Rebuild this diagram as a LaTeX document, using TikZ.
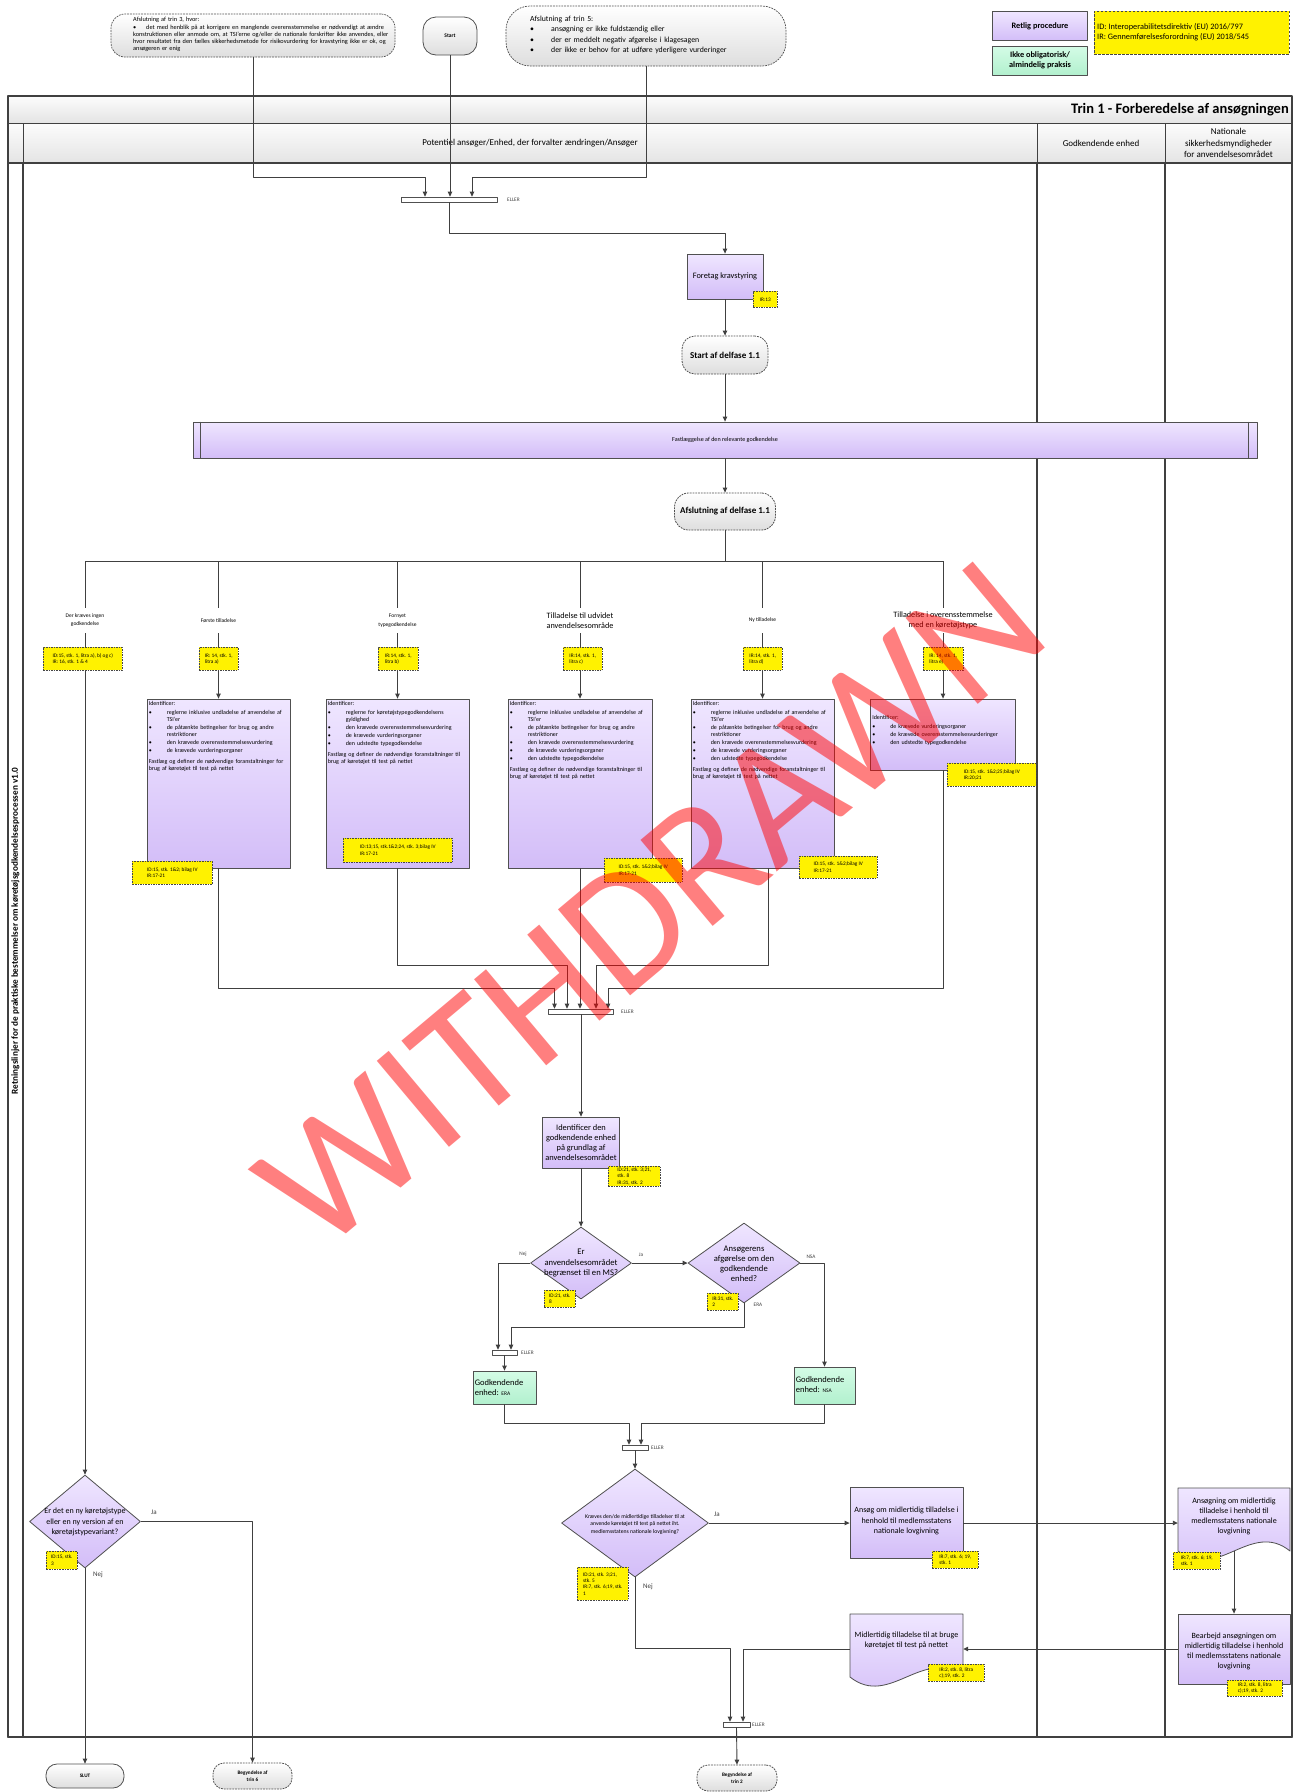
\documentclass[tikz,border=0pt]{standalone}
\usepackage{fontspec}
\setmainfont{Carlito}
\usetikzlibrary{arrows.meta,shapes.geometric,calc}
\definecolor{lineC}{RGB}{64,64,64}
\definecolor{boxC}{RGB}{80,80,80}
\definecolor{pTop}{RGB}{239,230,255}
\definecolor{pBot}{RGB}{211,189,248}
\definecolor{gTop}{RGB}{212,252,230}
\definecolor{gBot}{RGB}{178,240,206}
\definecolor{nBot}{RGB}{222,222,222}
\definecolor{hTop}{RGB}{252,252,252}
\definecolor{hBot}{RGB}{228,228,228}
\definecolor{tagC}{RGB}{70,70,70}
\hyphenpenalty=10000
\exhyphenpenalty=10000
\newcommand\fsz[2]{\fontsize{#1pt}{#2pt}\selectfont}
\newcommand\bitem[2][12pt]{\par\vspace{1pt}\noindent\hangindent=#1\hangafter=1\makebox[#1][l]{\textbullet}#2}
\tikzset{
 conn/.style={draw=lineC, line width=0.9pt},
 arr/.style={conn, -{Triangle[length=5pt,width=4.5pt]}},
 pbox/.style={draw=boxC, line width=0.8pt, top color=pTop, bottom color=pBot, inner sep=1pt},
 gbox/.style={draw=boxC, line width=0.8pt, top color=gTop, bottom color=gBot, inner sep=1pt},
 tagbox/.style={draw=tagC, line width=0.6pt, dash pattern=on 1.6pt off 1pt, fill=yellow, inner sep=1.2pt, align=left, anchor=north west, font=\fsz{5.3}{6.3}},
 term/.style={draw=boxC, line width=0.8pt, rounded corners=11pt, top color=white, bottom color=nBot, inner sep=1pt, align=center},
 dterm/.style={term, dash pattern=on 1.8pt off 1pt},
 note/.style={draw=boxC, line width=0.7pt, dash pattern=on 1.8pt off 1pt, top color=white, bottom color=nBot, inner sep=0pt},
 barbox/.style={draw=boxC, line width=0.7pt, fill=white, inner sep=0pt, minimum height=5pt},
 dia/.style={diamond, draw=boxC, line width=0.8pt, top color=pTop, bottom color=pBot, inner sep=0pt},
 blbl/.style={inner sep=0pt, minimum height=25pt, align=center},
 boxtxt/.style={inner sep=0pt, align=left, anchor=north west, font=\fsz{6}{7.1}},
 yn/.style={inner sep=0pt, text=lineC, font=\fsz{5.3}{6}},
 ynb/.style={inner sep=0pt, text=lineC, font=\fsz{7}{8}},
 elr/.style={inner sep=0pt, anchor=west, text=lineC, font=\fsz{5.3}{6}},
 hdr/.style={draw=lineC, line width=1pt, top color=hTop, bottom color=hBot},
 lane/.style={draw=lineC, line width=1.1pt},
}
\begin{document}
\begin{tikzpicture}[x=1pt,y=-1pt,line join=round]
\useasboundingbox (0,0) rectangle (1295,1792);
\fill[white] (0,0) rectangle (1295,1792);

% ---------- pool ----------
\path[hdr] (8,96) rectangle (1292,123);
\path[hdr] (8,123) rectangle (23,163);
\path[hdr] (23,123) rectangle (1037,163);
\path[hdr] (1037,123) rectangle (1165,163);
\path[hdr] (1165,123) rectangle (1292,163);
\draw[lane] (8,163) rectangle (23,1737);
\draw[lane] (23,163) rectangle (1037,1737);
\draw[lane] (1037,163) rectangle (1165,1737);
\draw[lane] (1165,163) rectangle (1292,1737);
\draw[draw=lineC, line width=1.5pt] (8,96) rectangle (1292,1737);
\node[anchor=east, inner sep=0pt, font=\bfseries\fsz{14.5}{16}] (title) at (1289,110) {Trin 1 - Forberedelse af ansøgningen};
\node[font=\fsz{9}{11}] (h1) at (530,143) {Potentiel ansøger/Enhed, der forvalter ændringen/Ansøger};
\node[font=\fsz{9}{11}] (h2) at (1101,143) {Godkendende enhed};
\node[font=\fsz{9}{11.8}, align=center, inner sep=0pt] (h3) at (1228.5,143) {Nationale\\sikkerhedsmyndigheder\\for anvendelsesområdet};
\node[rotate=90, inner sep=0pt, font=\bfseries\fsz{9.2}{10}] (vt) at (15.5,931) {Retningslinjer for de praktiske bestemmelser om køretøjsgodkendelsesprocessen v1.0};

% ---------- top ----------
\node[note, rounded corners=14pt, minimum width=284, minimum height=43] (note1) at (253,35.5) {};
\node[anchor=north west, align=left, inner sep=0pt, font=\fsz{6.3}{7.1}, text width=258] (note1t) at (133,17) {Afslutning af trin 3, hvor:\bitem[13pt]{det med henblik på at korrigere en manglende overensstemmelse er nødvendigt at ændre\newline konstruktionen eller anmode om, at TSI'erne og/eller de nationale forskrifter ikke anvendes, eller\newline hvor resultatet fra den fælles sikkerhedsmetode for risikovurdering for kravstyring ikke er ok, og\newline ansøgeren er enig}};
\node[term, rounded corners=13pt, minimum width=54, minimum height=38, font=\bfseries\fsz{5.5}{6.5}] (start) at (450,36) {Start};
\node[note, rounded corners=24pt, minimum width=280, minimum height=60] (note2) at (646,36) {};
\node[anchor=north west, align=left, inner sep=0pt, font=\fsz{7.8}{9.3}, text width=245] (note2t) at (530,16) {Afslutning af trin 5:\bitem[21pt]{ansøgning er ikke fuldstændig eller}\bitem[21pt]{der er meddelt negativ afgørelse i klagesagen}\bitem[21pt]{der ikke er behov for at udføre yderligere vurderinger}};

\node[pbox, minimum width=95, minimum height=29, font=\bfseries\fsz{8.3}{10}] (leg1) at (1040,26) {Retlig procedure};
\node[gbox, minimum width=95, minimum height=29, align=center, font=\bfseries\fsz{8.3}{10}] (leg2) at (1040,60.5) {Ikke obligatorisk/\\almindelig praksis};
\node[tagbox, anchor=center, dash pattern=on 2.5pt off 1.5pt, minimum width=195, minimum height=43] (leg3) at (1191.5,32.5) {};
\node[inner sep=0pt, anchor=west, align=left, font=\fsz{8.3}{10}] (leg3t) at (1097,32.5) {ID: Interoperabilitetsdirektiv (EU) 2016/797\\IR: Gennemførelsesforordning (EU) 2018/545};

% ---------- main flow nodes ----------
\node[barbox, minimum width=96] (bar1) at (449,199.5) {};
\node[elr] (e1) at (507,200) {ELLER};
\node[pbox, minimum width=76, minimum height=45, font=\fsz{8.3}{10}] (foretag) at (725,276.5) {Foretag kravstyring};
\node[dterm, rounded corners=13pt, minimum width=86, minimum height=38, font=\bfseries\fsz{9}{10}] (startd) at (725,355) {Start af delfase 1.1};
\node[pbox, minimum width=1064, minimum height=36, font=\fsz{6.1}{7}] (fast) at (725,440) {Fastlæggelse af den relevante godkendelse};
\draw[boxC, line width=0.7pt] ([xshift=8pt]fast.north west) -- ([xshift=8pt]fast.south west);
\draw[boxC, line width=0.7pt] ([xshift=-9pt]fast.north east) -- ([xshift=-9pt]fast.south east);
\node[dterm, rounded corners=14pt, minimum width=101, minimum height=37, font=\bfseries\fsz{9}{10}] (afsl) at (725,511.5) {Afslutning af delfase 1.1};

% branch labels
\node[blbl, font=\fsz{5.5}{8}] (L1) at (85,620.5) {Der kræves ingen\\godkendelse};
\node[blbl, font=\fsz{5.5}{8}] (LA) at (218.5,620.5) {Første tilladelse};
\node[blbl, font=\fsz{5.5}{9.5}] (LB) at (397.5,620.5) {Fornyet\\typegodkendelse};
\node[blbl, font=\fsz{8.2}{10.5}] (LC) at (580,620.5) {Tilladelse til udvidet\\anvendelsesområde};
\node[blbl, font=\fsz{5.5}{8}] (LD) at (762.5,620.5) {Ny tilladelse};
\node[blbl, font=\fsz{8.2}{10.5}] (LE) at (943,620.5) {Tilladelse i overensstemmelse\\med en køretøjstype};

% identify boxes
\node[pbox, minimum width=143, minimum height=169] (boxA) at (218.5,783.5) {};
\node[pbox, minimum width=143, minimum height=169] (boxB) at (397.5,783.5) {};
\node[pbox, minimum width=144, minimum height=169] (boxC) at (580,783.5) {};
\node[pbox, minimum width=143, minimum height=169] (boxD) at (762.5,783.5) {};
\node[pbox, minimum width=145, minimum height=71] (boxE) at (943,734.5) {};
\node[boxtxt, text width=139] (tA) at ([xshift=2pt,yshift=-3pt]boxA.north west) {Identificer:\bitem[18pt]{reglerne inklusive undladelse af anvendelse af TSI'er}\bitem[18pt]{de påtænkte betingelser for brug og andre restriktioner}\bitem[18pt]{den krævede overensstemmelsesvurdering}\bitem[18pt]{de krævede vurderingsorganer}\par\vspace{4pt}Fastlæg og definer de nødvendige foranstaltninger for brug af køretøjet til test på nettet};
\node[boxtxt, text width=139] (tB) at ([xshift=2pt,yshift=-3pt]boxB.north west) {Identificer:\bitem[18pt]{reglerne for køretøjstypegodkendelsens gyldighed}\bitem[18pt]{den krævede overensstemmelsesvurdering}\bitem[18pt]{de krævede vurderingsorganer}\bitem[18pt]{den udstedte typegodkendelse}\par\vspace{4pt}Fastlæg og definer de nødvendige foranstaltninger til brug af køretøjet til test på nettet};
\node[boxtxt, text width=140] (tC) at ([xshift=2pt,yshift=-3pt]boxC.north west) {Identificer:\bitem[18pt]{reglerne inklusive undladelse af anvendelse af TSI'er}\bitem[18pt]{de påtænkte betingelser for brug og andre restriktioner}\bitem[18pt]{den krævede overensstemmelsesvurdering}\bitem[18pt]{de krævede vurderingsorganer}\bitem[18pt]{den udstedte typegodkendelse}\par\vspace{4pt}Fastlæg og definer de nødvendige foranstaltninger til brug af køretøjet til test på nettet};
\node[boxtxt, text width=139] (tD) at ([xshift=2pt,yshift=-3pt]boxD.north west) {Identificer:\bitem[18pt]{reglerne inklusive undladelse af anvendelse af TSI'er}\bitem[18pt]{de påtænkte betingelser for brug og andre restriktioner}\bitem[18pt]{den krævede overensstemmelsesvurdering}\bitem[18pt]{de krævede vurderingsorganer}\bitem[18pt]{den udstedte typegodkendelse}\par\vspace{4pt}Fastlæg og definer de nødvendige foranstaltninger til brug af køretøjet til test på nettet};
\node[boxtxt, text width=140] (tE) at ([xshift=2pt,yshift=-17pt]boxE.north west) {Identificer:\bitem[18pt]{de krævede vurderingsorganer}\bitem[18pt]{de krævede overensstemmelsesvurderinger}\bitem[18pt]{den udstedte typegodkendelse}};

\node[barbox, minimum width=65] (bar5) at (581,1011.5) {};
\node[elr] (e5) at (621,1012) {ELLER};
\node[pbox, minimum width=77, minimum height=51, align=center, font=\fsz{8.4}{10.2}] (idbox) at (581,1142.5) {Identificer den\\godkendende enhed\\på grundlag af\\anvendelsesområdet};

\node[dia, minimum width=101, minimum height=72] (d1) at (581,1263) {};
\node[inner sep=0pt, align=center, font=\fsz{8.6}{10.5}] (d1t) at (581,1263) {Er\\anvendelsesområdet\\begrænset til en MS?};
\node[dia, minimum width=112, minimum height=80] (d2) at (744,1263) {};
\node[inner sep=0pt, align=center, font=\fsz{8.6}{10}] (d2t) at (744,1264) {Ansøgerens\\afgørelse om den\\godkendende\\enhed?};
\node[yn] (n1) at (523,1254) {Nej};
\node[yn] (j1) at (641,1255) {Ja};
\node[yn] (nsaL) at (811,1257) {NSA};
\node[yn] (eraL) at (758,1305) {ERA};

\node[barbox, minimum width=25] (bar2) at (504.5,1352.5) {};
\node[elr] (e2) at (521,1353) {ELLER};
\node[gbox, minimum width=63, minimum height=33] (era) at (504.5,1387.5) {};
\node[inner sep=0pt, anchor=west, align=left, font=\fsz{8.5}{10.5}] (erat) at ([xshift=2pt]era.west) {Godkendende\\enhed: {\fsz{5.5}{6}ERA}};
\node[gbox, minimum width=61, minimum height=37] (nsa) at (824.5,1385.5) {};
\node[inner sep=0pt, anchor=west, align=left, font=\fsz{8.5}{10.5}] (nsat) at ([xshift=2pt,yshift=1pt]nsa.west) {Godkendende\\enhed: {\fsz{5.5}{6}NSA}};

\node[barbox, minimum width=26] (bar3) at (635,1447.5) {};
\node[elr] (e3) at (651,1448) {ELLER};

\node[dia, minimum width=147, minimum height=108] (d3) at (635,1523) {};
\node[inner sep=0pt, align=center, font=\fsz{5.7}{7.5}] (d3t) at (635,1524) {Kræves den/de midlertidige tilladelser til at\\anvende køretøjet til test på nettet iht.\\medlemsstatens nationale lovgivning?};
\node[ynb] (j3) at (717,1514) {Ja};
\node[ynb] (n3) at (648,1587) {Nej};

\node[pbox, minimum width=113, minimum height=71] (ansog) at (906.5,1523) {};
\node[inner sep=0pt, align=center, font=\fsz{8}{10.5}] (ansogt) at (906.5,1521) {Ansøg om midlertidig tilladelse i\\henhold til medlemsstatens\\nationale lovgivning};

\path[draw=boxC, line width=0.8pt, top color=pTop, bottom color=pBot] (1178,1488) -- (1290,1488) -- (1290,1551) .. controls (1251,1519.5) and (1217,1582.5) .. (1178,1551) -- cycle;
\node[inner sep=0pt, minimum width=112, minimum height=70] (ansogn) at (1234,1523) {};
\node[inner sep=0pt, align=center, font=\fsz{8}{10}] (ansognt) at (1234,1516) {Ansøgning om midlertidig\\tilladelse i henhold til\\medlemsstatens nationale\\lovgivning};

\node[pbox, minimum width=112, minimum height=70] (bearb) at (1234,1649) {};
\node[inner sep=0pt, align=center, font=\fsz{8}{10}] (bearbt) at (1234,1651) {Bearbejd ansøgningen om\\midlertidig tilladelse i henhold\\til medlemsstatens nationale\\lovgivning};

\path[draw=boxC, line width=0.8pt, top color=pTop, bottom color=pBot] (850,1614) -- (963,1614) -- (963,1677) .. controls (923.5,1645.5) and (889.5,1708.5) .. (850,1677) -- cycle;
\node[inner sep=0pt, minimum width=113, minimum height=70] (mid) at (906.5,1649) {};
\node[inner sep=0pt, align=center, font=\fsz{8}{10}] (midt) at (906.5,1640) {Midlertidig tilladelse til at bruge\\køretøjet til test på nettet};

\node[barbox, minimum width=27] (bar4) at (736.5,1724.5) {};
\node[elr] (e4) at (752,1725) {ELLER};

\node[dia, minimum width=111, minimum height=93] (d4) at (85,1521.5) {};
\node[inner sep=0pt, align=center, font=\fsz{8}{10.5}] (d4t) at (85,1522) {Er det en ny køretøjstype\\eller en ny version af en\\køretøjstypevariant?};
\node[ynb] (j4) at (154,1512) {Ja};
\node[ynb] (n4) at (98,1575) {Nej};

\node[term, rounded corners=11pt, minimum width=78, minimum height=24, font=\bfseries\fsz{5.2}{6.5}] (slut) at (85,1776) {SLUT};
\node[dterm, rounded corners=11pt, minimum width=79, minimum height=26, font=\bfseries\fsz{5.2}{6.5}] (trin6) at (252.5,1776) {Begyndelse af\\trin 6};
\node[dterm, rounded corners=11pt, minimum width=80, minimum height=26, font=\bfseries\fsz{5.2}{6.5}] (trin2) at (737,1778) {Begyndelse af\\trin 2};

% ---------- connectors ----------
\draw[arr] (note1.south) -- ++(0,120) -| ([xshift=-24pt]bar1.north);
\draw[arr] (start.south) -- (start.south |- bar1.north);
\draw[arr] (note2.south) -- ++(0,111) -| ([xshift=23pt]bar1.north);
\draw[arr] (bar1.south) -- ++(0,31) -| (foretag.north);
\draw[arr] (foretag) -- (startd);
\draw[arr] (startd) -- (fast);
\draw[arr] (fast) -- (afsl);
\coordinate (bl) at (85,561);
\coordinate (br) at (943,561);
\draw[conn] (afsl.south) -- (afsl.south |- bl);
\draw[conn] (bl) -- (br);
\foreach \n in {L1,LA,LB,LC,LD,LE} {\draw[conn] (\n.north |- bl) -- (\n.north);}
\draw[arr] (L1.south) -- (L1.south |- d4.north);
\draw[arr] (LA.south) -- (boxA.north);
\draw[arr] (LB.south) -- (boxB.north);
\draw[arr] (LC.south) -- (boxC.north);
\draw[arr] (LD.south) -- (boxD.north);
\draw[arr] (LE.south) -- (boxE.north);
\draw[arr] (boxA.south) -- ++(0,120) -| ([xshift=-26.5pt]bar5.north);
\draw[arr] (boxB.south) -- ++(0,97) -| ([xshift=-14pt]bar5.north);
\draw[arr] (boxC.south) -- (boxC.south |- bar5.north);
\draw[arr] ([xshift=5.5pt]boxD.south) -- ++(0,97) -| ([xshift=15pt]bar5.north);
\draw[arr] (boxE.south) -- ++(0,218) -| ([xshift=27pt]bar5.north);
\draw[arr] (bar5.south) -- (idbox.north);
\draw[arr] (idbox.south) -- (d1.north);
\draw[arr] (d1.west) -| ([xshift=-6.5pt]bar2.north);
\draw[arr] (d1.east) -- (d2.west);
\draw[arr] (d2.east) -| (nsa.north);
\draw[arr] (d2.south) -- ++(0,24) -| ([xshift=6.5pt]bar2.north);
\draw[arr] (bar2.south) -- (era.north);
\draw[arr] (era.south) -- ++(0,19) -| ([xshift=-6pt]bar3.north);
\draw[arr] (nsa.south) -- ++(0,19) -| ([xshift=6pt]bar3.north);
\draw[arr] (bar3.south) -- (d3.north);
\draw[arr] (d3.east) -- (ansog.west);
\draw[arr] (d3.south) -- ++(0,71) -| ([xshift=-6.5pt]bar4.north);
\draw[arr] (ansog.east) -- (ansogn.west);
\draw[arr] ([yshift=7pt]ansogn.south) -- (bearb.north);
\draw[arr] (bearb.west) -- (mid.east);
\draw[arr] (mid.west) -| ([xshift=6.5pt]bar4.north);
\draw[arr] (bar4.south) -- (trin2.north);
\draw[arr] (d4.east) -| (trin6.north);
\draw[arr] (d4.south) -- (slut.north);

% ---------- tags ----------
\node[tagbox, minimum width=24, minimum height=16] (tIR) at (753,291) {IR:13};
\node[tagbox, minimum width=79, minimum height=23] (tT1) at (43,647) {ID:15, stk. 1, litra a), b) og c)\\IR: 16, stk. 1 \& 4};
\node[tagbox, minimum width=39, minimum height=23] (tTA) at (199,647) {IR: 14, stk. 1,\\litra a)};
\node[tagbox, minimum width=40, minimum height=23] (tTB) at (378,647) {IR:14, stk. 1,\\litra b)};
\node[tagbox, minimum width=39, minimum height=23] (tTC) at (563,647) {IR:14, stk. 1,\\litra c)};
\node[tagbox, minimum width=39, minimum height=23] (tTD) at (743,647) {IR:14, stk. 1,\\litra d)};
\node[tagbox, minimum width=40, minimum height=23] (tTE) at (923,647) {IR: 14, stk. 1,\\litra e)};
\node[tagbox, minimum width=80, minimum height=23] (tBA) at (132,861) {ID:15, stk. 1\&2; bilag IV\\IR:17-21};
\node[tagbox, minimum width=109, minimum height=24] (tBB) at (343,838) {ID:13;15, stk.1\&2;24, stk. 3;bilag IV\\IR:17-21};
\node[tagbox, minimum width=78, minimum height=24] (tBC) at (604,858) {ID:15, stk. 1\&2;bilag IV\\IR:17-21};
\node[tagbox, minimum width=78, minimum height=22] (tBD) at (799,856) {ID:15, stk. 1\&2;bilag IV\\IR:17-21};
\node[tagbox, minimum width=89, minimum height=23] (tBE) at (947,763) {ID:15, stk. 1\&2;25;bilag IV\\IR:20;21};
\node[tagbox, minimum width=52, minimum height=20] (tId) at (608,1166) {ID:21, stk. 3;21,\\stk. 8\\IR:31, stk. 2};
\node[tagbox, minimum width=31, minimum height=17] (tD1) at (544,1290) {ID:21, stk.\\8};
\node[tagbox, minimum width=31, minimum height=17] (tD2) at (707,1293) {IR:31, stk.\\2};
\node[tagbox, minimum width=51, minimum height=33] (tD3) at (577,1567) {ID:21, stk. 3;21,\\stk. 5\\IR:7, stk. 6;19, stk.\\1};
\node[tagbox, minimum width=46, minimum height=17] (tAn) at (932,1551) {IR:7, stk. 6; 19,\\stk. 1};
\node[tagbox, minimum width=56, minimum height=17] (tMi) at (928,1664) {IR:2, stk. 8, litra\\c);19, stk. 2};
\node[tagbox, minimum width=47, minimum height=17] (tAg) at (1173,1552) {IR:7, stk. 6; 19,\\stk. 1};
\node[tagbox, minimum width=55, minimum height=16] (tBe) at (1227,1680) {IR:2, stk. 8, litra\\c);19, stk. 2};
\node[tagbox, minimum width=31, minimum height=18] (tD4) at (46,1551) {ID:15, stk.\\3};

% ---------- watermark ----------
\node[rotate=40, text=red, text opacity=0.5, inner sep=0pt, font=\fsz{175}{175}] (wm) at (651,905) {WITHDRAWN};
\end{tikzpicture}
\end{document}
